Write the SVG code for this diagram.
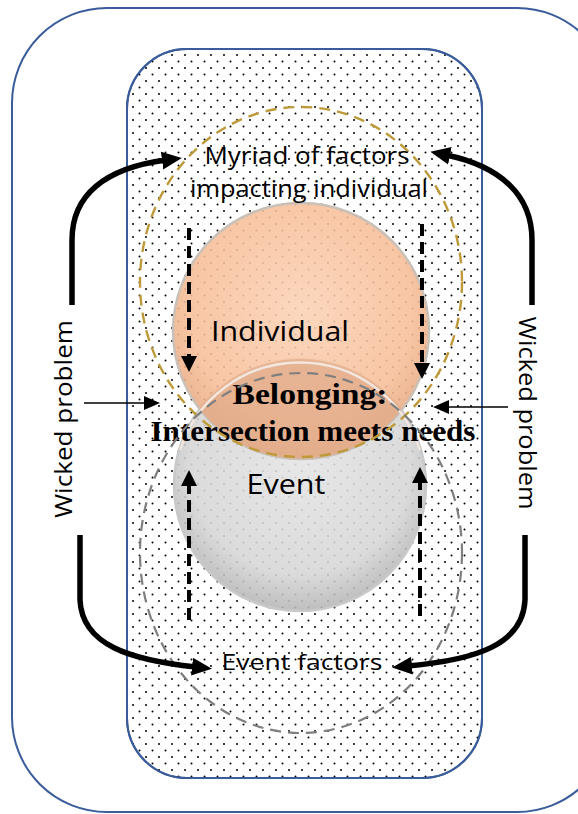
<svg xmlns="http://www.w3.org/2000/svg" width="578" height="814" viewBox="0 0 578 814">
  <defs>
    <pattern id="dots" x="0" y="0" width="13" height="13" patternUnits="userSpaceOnUse">
      <circle cx="3" cy="3" r="1" fill="#000"/>
      <circle cx="9.5" cy="9.5" r="1" fill="#000"/>
    </pattern>
    <radialGradient id="orangeFill" cx="0.5" cy="0.42" r="0.58">
      <stop offset="0" stop-color="#FBD2B5"/>
      <stop offset="0.75" stop-color="#F7BE98"/>
      <stop offset="1" stop-color="#E5A77F"/>
    </radialGradient>
    <radialGradient id="grayFill" cx="0.5" cy="0.42" r="0.58">
      <stop offset="0" stop-color="#E4E4E4"/>
      <stop offset="0.75" stop-color="#D6D6D6"/>
      <stop offset="1" stop-color="#B5B5B5"/>
    </radialGradient>
    <clipPath id="eventClip">
      <circle cx="300" cy="485" r="126"/>
    </clipPath>
    <marker id="headBig" viewBox="0 0 20 20" refX="4" refY="10" markerWidth="20" markerHeight="20" markerUnits="userSpaceOnUse" orient="auto">
      <path d="M0,1 L20,10 L0,19 Z" fill="#000"/>
    </marker>
    <marker id="headDash" viewBox="0 0 16 16" refX="4" refY="8" markerWidth="16" markerHeight="16" markerUnits="userSpaceOnUse" orient="auto">
      <path d="M0,0 L16,8 L0,16 Z" fill="#000"/>
    </marker>
    <marker id="headThin" viewBox="0 0 16 14" refX="2" refY="7" markerWidth="16" markerHeight="14" markerUnits="userSpaceOnUse" orient="auto">
      <path d="M0,0 L16,7 L0,14 Z" fill="#000"/>
    </marker>
    <style>
      .frame { stroke: #3A5C9A; stroke-width: 2; }
      .sans { font-family: "Open Sans", "Lato", "Liberation Sans", sans-serif; fill: #000; }
      .serifb { font-family: "Liberation Serif", "Times New Roman", serif; font-weight: bold; fill: #000; }
      .big { stroke: #000; stroke-width: 5.5; fill: none; stroke-linecap: butt; }
      .dash { stroke: #000; stroke-width: 4; fill: none; stroke-dasharray: 12 6; }
      .thin { stroke: #000; stroke-width: 1.5; fill: none; }
    </style>
  </defs>

  <!-- outer frame -->
  <g id="outer-frame">
    <rect x="12" y="8" width="600" height="804" rx="95" ry="95" fill="#fff" class="frame"/>
  </g>

  <!-- dotted inner panel -->
  <g id="inner-panel">
    <rect x="127" y="49" width="355" height="729" rx="60" ry="60" fill="#fff" class="frame"/>
    <rect x="127" y="49" width="355" height="729" rx="60" ry="60" fill="url(#dots)" class="frame"/>
  </g>

  <!-- event circle -->
  <g id="event">
    <circle cx="300" cy="485" r="126" fill="url(#grayFill)" fill-opacity="0.88" stroke="#C9C9C9" stroke-width="2.5"/>
    <text class="sans" x="286" y="494" font-size="27" text-anchor="middle" textLength="79" lengthAdjust="spacingAndGlyphs">Event</text>
  </g>

  <!-- individual circle -->
  <g id="individual">
    <circle cx="301" cy="331" r="128" fill="url(#orangeFill)" fill-opacity="0.88" stroke="#C9C0B8" stroke-width="2.5"/>
    <text class="sans" x="280" y="341" font-size="28" text-anchor="middle" textLength="138" lengthAdjust="spacingAndGlyphs">Individual</text>
  </g>

  <!-- overlap of the two circles -->
  <g id="belonging">
    <circle cx="301" cy="331" r="128" fill="#E1AC8B" fill-opacity="0.75" clip-path="url(#eventClip)"/>
    <path d="M180,450 A126,126 0 0 1 420,450" fill="none" stroke="#F2E6DE" stroke-width="2.5" clip-path="url(#eventClip)"/>
    <text class="serifb" x="310" y="404" font-size="29" text-anchor="middle" textLength="155" lengthAdjust="spacingAndGlyphs">Belonging:</text>
    <text class="serifb" x="313" y="441" font-size="29" text-anchor="middle" textLength="325" lengthAdjust="spacingAndGlyphs">Intersection meets needs</text>
  </g>

  <!-- influence zones -->
  <g id="factor-zones">
    <ellipse cx="301" cy="282" rx="161" ry="175" fill="none" stroke="#BF9A3A" stroke-width="2.4" stroke-dasharray="11 7"/>
    <ellipse cx="301" cy="553" rx="161" ry="180" fill="none" stroke="#7F7F7F" stroke-width="2.2" stroke-dasharray="11 7"/>
  </g>

  <g id="individual-factors">
    <text class="sans" x="307" y="164" font-size="24" text-anchor="middle" textLength="205" lengthAdjust="spacingAndGlyphs">Myriad of factors</text>
    <text class="sans" x="309" y="197" font-size="24" text-anchor="middle" textLength="238" lengthAdjust="spacingAndGlyphs">impacting individual</text>
  </g>

  <g id="event-factors">
    <text class="sans" x="302" y="670" font-size="21" text-anchor="middle" textLength="161" lengthAdjust="spacingAndGlyphs">Event factors</text>
  </g>

  <g id="wicked-left">
    <text class="sans" transform="translate(72,419) rotate(-90)" font-size="24" text-anchor="middle" textLength="198" lengthAdjust="spacingAndGlyphs">Wicked problem</text>
  </g>
  <g id="wicked-right">
    <text class="sans" transform="translate(519,413) rotate(90)" font-size="24" text-anchor="middle" textLength="193" lengthAdjust="spacingAndGlyphs">Wicked problem</text>
  </g>

  <!-- connectors -->
  <g id="connectors">
    <path class="big" d="M72,305 L72,240 C72,195 105,168 166,160" marker-end="url(#headBig)"/>
    <path class="big" d="M532,305 L532,240 C532,195 500,166 446,155" marker-end="url(#headBig)"/>
    <path class="big" d="M80,535 L80,600 C82,645 130,660 196,667" marker-end="url(#headBig)"/>
    <path class="big" d="M525,535 L525,600 C523,645 475,660 408,666" marker-end="url(#headBig)"/>

    <path class="dash" d="M189,228 L189,360" marker-end="url(#headDash)"/>
    <path class="dash" d="M422,224 L422,367" marker-end="url(#headDash)"/>
    <path class="dash" d="M189,620 L189,482" marker-end="url(#headDash)"/>
    <path class="dash" d="M420,616 L420,479" marker-end="url(#headDash)"/>

    <path class="thin" d="M84,403 L146,403" marker-end="url(#headThin)"/>
    <path class="thin" d="M508,407 L447,407" marker-end="url(#headThin)"/>
  </g>
</svg>
